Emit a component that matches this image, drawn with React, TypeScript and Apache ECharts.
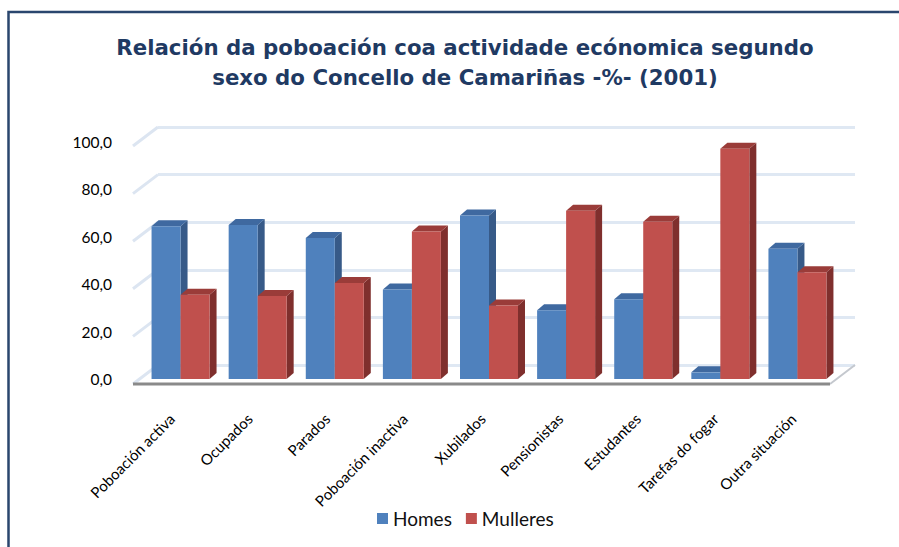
import React, { useEffect, useRef } from "react";
import * as echarts from "echarts";

const titleLines = [
  "Relación da poboación coa actividade ecónomica segundo",
  "sexo do Concello de Camariñas -%- (2001)",
];
const categories = [
  "Poboación activa",
  "Ocupados",
  "Parados",
  "Poboación inactiva",
  "Xubilados",
  "Pensionistas",
  "Estudantes",
  "Tarefas do fogar",
  "Outra situación",
];
const seriesNames = ["Homes", "Mulleres"];
const homes = [64.5, 65.0, 59.5, 37.8, 69.0, 29.0, 33.7, 2.8, 55.0];
const mulleres = [35.5, 35.0, 40.5, 62.2, 31.0, 71.0, 66.3, 97.2, 45.0];
const yMin = 0;
const yMax = 100;
const yStep = 20;
const yTicks = [0, 20, 40, 60, 80, 100];

const FONT = "Lato, 'Liberation Sans', sans-serif";
// depth offset of the side wall / floor (front relative to back)
const WALL_DX = -25;
const WALL_DY = 19;
// depth of each bar
const BAR_DX = 7;
const BAR_DY = -6;
const BAR_W = 29;

const palette = [
  { front: "#4F81BD", side: "#375A88", top: "#3F69A0" },
  { front: "#C0504D", side: "#7F2F2D", top: "#9A3C39" },
];

function fmt(v: number) {
  return v.toFixed(1).replace(".", ",");
}

export default function App() {
  const ref = useRef<HTMLDivElement>(null);
  useEffect(() => {
    if (!ref.current) return;
    const chart = echarts.init(ref.current, null, { renderer: "svg" });

    const barSeries = (name: string, values: number[], k: number) => ({
      type: "custom",
      name,
      xAxisIndex: 0,
      yAxisIndex: 0,
      z: 5,
      itemStyle: { color: palette[k].front },
      data: values.map((v, i) => [i, v]),
      renderItem: (params: any, api: any) => {
        const idx = api.value(0);
        const top = api.coord([idx, api.value(1)]);
        const base = api.coord([idx, 0]);
        const x0 = k === 0 ? top[0] - BAR_W : top[0];
        const x1 = x0 + BAR_W;
        const yt = top[1];
        const yb = base[1];
        const c = palette[k];
        return {
          type: "group",
          children: [
            {
              type: "polygon",
              shape: {
                points: [
                  [x1, yt],
                  [x1 + BAR_DX, yt + BAR_DY],
                  [x1 + BAR_DX, yb + BAR_DY],
                  [x1, yb],
                ],
              },
              style: { fill: c.side },
            },
            {
              type: "polygon",
              shape: {
                points: [
                  [x0, yt],
                  [x0 + BAR_DX, yt + BAR_DY],
                  [x1 + BAR_DX, yt + BAR_DY],
                  [x1, yt],
                ],
              },
              style: { fill: c.top },
            },
            {
              type: "rect",
              shape: { x: x0, y: yt, width: BAR_W, height: yb - yt },
              style: { fill: c.front },
            },
          ],
        };
      },
    });

    const option: any = {
      animation: false,
      backgroundColor: "#ffffff",
      title: {
        text: titleLines.join("\n"),
        left: 460,
        top: 27,
        textAlign: "center",
        textStyle: {
          fontFamily: "'DejaVu Sans', sans-serif",
          fontWeight: "bold",
          fontSize: 21.3,
          lineHeight: 30,
          color: "#1F3A63",
        },
      },
      legend: {
        data: seriesNames,
        left: 372,
        top: 504,
        icon: "rect",
        itemWidth: 11,
        itemHeight: 11,
        itemGap: 14,
        textStyle: { fontFamily: FONT, fontSize: 19, color: "#111" },
      },
      graphic: [
        {
          type: "rect",
          shape: { x: 8.5, y: 12, width: 1000, height: 1000 },
          style: { fill: "none", stroke: "#2A466E", lineWidth: 2.5 },
          silent: true,
          z: 100,
        },
      ],
      grid: [
        { left: 142, top: 142, width: 694, height: 237 },
        { left: 158, top: 127, width: 697, height: 238 },
        { left: 133, top: 300, width: 699, height: 108 },
      ],
      xAxis: [
        {
          gridIndex: 0,
          type: "category",
          data: categories,
          axisLine: { show: false },
          axisTick: { show: false },
          axisLabel: { show: false },
        },
        {
          gridIndex: 1,
          type: "value",
          min: 0,
          max: 1,
          show: false,
        },
        {
          gridIndex: 2,
          type: "category",
          data: categories,
          axisLine: { show: false },
          axisTick: { show: false },
          axisLabel: {
            interval: 0,
            rotate: 45,
            margin: 8,
            fontFamily: FONT,
            fontSize: 15,
            color: "#000",
          },
        },
      ],
      yAxis: [
        {
          gridIndex: 0,
          type: "value",
          min: yMin,
          max: yMax,
          interval: yStep,
          axisLine: { show: false },
          axisTick: { show: false },
          splitLine: { show: false },
          axisLabel: {
            margin: 30,
            formatter: (v: number) => fmt(v),
            fontFamily: FONT,
            fontSize: 15.5,
            color: "#000",
          },
        },
        {
          gridIndex: 1,
          type: "value",
          min: yMin,
          max: yMax,
          interval: yStep,
          axisLine: { show: false },
          axisTick: { show: false },
          axisLabel: { show: false },
          splitLine: { show: true, lineStyle: { color: "#DFE8F3", width: 3 } },
        },
        { gridIndex: 2, type: "value", show: false },
      ],
      series: [
        {
          type: "custom",
          name: "wall",
          xAxisIndex: 1,
          yAxisIndex: 1,
          z: 1,
          silent: true,
          data: yTicks.map((v) => [0, v]),
          renderItem: (params: any, api: any) => {
            const p = api.coord([0, api.value(1)]);
            return {
              type: "line",
              shape: { x1: p[0] + WALL_DX, y1: p[1] + WALL_DY, x2: p[0], y2: p[1] },
              style: { stroke: "#DCE5F1", lineWidth: 3 },
            };
          },
        },
        {
          type: "custom",
          name: "floor",
          xAxisIndex: 1,
          yAxisIndex: 1,
          z: 1,
          silent: true,
          data: [[0, 0]],
          renderItem: (params: any, api: any) => {
            const pl = api.coord([0, 0]);
            const pr = api.coord([1, 0]);
            return {
              type: "group",
              children: [
                {
                  type: "line",
                  shape: { x1: pr[0] + WALL_DX, y1: pr[1] + WALL_DY, x2: pr[0], y2: pr[1] },
                  style: { stroke: "#C4C8CE", lineWidth: 2 },
                },
                {
                  type: "line",
                  shape: {
                    x1: pl[0] + WALL_DX,
                    y1: pl[1] + WALL_DY,
                    x2: pr[0] + WALL_DX,
                    y2: pr[1] + WALL_DY,
                  },
                  style: { stroke: "#8A8A8A", lineWidth: 3 },
                },
              ],
            };
          },
        },
        barSeries(seriesNames[0], homes, 0),
        barSeries(seriesNames[1], mulleres, 1),
      ],
    };
    chart.setOption(option);
    return () => chart.dispose();
  }, []);
  return (
    <div
      ref={ref}
      style={{ position: "fixed", left: 0, top: 0, width: 899, height: 547 }}
    />
  );
}
